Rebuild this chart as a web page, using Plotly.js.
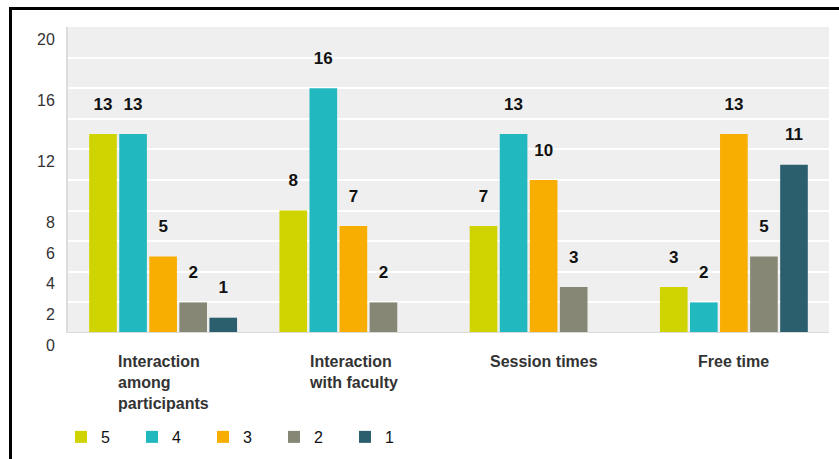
<!DOCTYPE html>
<html>
<head>
<meta charset="utf-8">
<script src="https://cdn.plot.ly/plotly-3.0.1.min.js"></script>
<style>
  html, body { margin: 0; padding: 0; background: #fff; }
  #wrap { position: relative; width: 839px; height: 459px; overflow: hidden; }
  #frame { position: absolute; left: 9px; top: 7px; width: 900px; height: 500px;
           border-top: 3px solid #000; border-left: 3px solid #000; pointer-events: none; z-index: 5; }
  #chart { position: absolute; left: 0; top: 0; width: 839px; height: 459px; }
</style>
</head>
<body>
<div id="wrap">
  <div id="chart"></div>
  <div id="frame"></div>
</div>
<script>
// Data
const categories = ["Interaction among participants", "Interaction with faculty", "Session times", "Free time"];
const categoryLabels = ["Interaction<br>among<br>participants", "Interaction<br>with faculty", "Session times", "Free time"];
const seriesNames = ["5", "4", "3", "2", "1"];
const values5 = [13, 8, 7, 3];
const values4 = [13, 16, 13, 2];
const values3 = [5, 7, 10, 13];
const values2 = [2, 2, 3, 5];
const values1 = [1, 0, 0, 11];
const yTickVals = [0, 2, 4, 6, 8, 10, 12, 14, 16, 18, 20];
const yTickText = ["0", "2", "4", "6", "8", "", "12", "", "16", "", "20"];

const colors = ["#cfd400", "#22b8c0", "#f7ae00", "#878776", "#2b5f6e"];
const allValues = [values5, values4, values3, values2, values1];

const traces = allValues.map((vals, i) => ({
  type: "bar",
  name: seriesNames[i],
  x: categories,
  y: vals,
  marker: { color: colors[i], line: { width: 0 } },
  text: vals.map(v => v > 0 ? "<span style='font-size:17px'><b>" + v + "</b></span><br> " : ""),
  textposition: "outside",
  textfont: { family: "Liberation Sans, Arial, sans-serif", size: 14, color: "#111" },
  constraintext: "none",
  cliponaxis: false,
  hoverinfo: "none"
}));

const annotations = categories.map((c, i) => ({
  x: c, xref: "x", y: 0, yref: "paper",
  yanchor: "top", xanchor: "center", align: "left",
  yshift: -18,
  showarrow: false,
  text: "<b>" + categoryLabels[i] + "</b>",
  font: { family: "Liberation Sans, Arial, sans-serif", size: 16, color: "#333" }
}));

const layout = {
  width: 839, height: 459,
  margin: { l: 68, r: 10, t: 27, b: 126 },
  paper_bgcolor: "#ffffff",
  plot_bgcolor: "#efefef",
  barmode: "group",
  bargap: 0.21,
  bargroupgap: 0.08,
  font: { family: "Liberation Sans, Arial, sans-serif", size: 16, color: "#333" },
  xaxis: {
    type: "category",
    showticklabels: false,
    showgrid: false,
    showline: false,
    zeroline: false,
    ticks: ""
  },
  yaxis: {
    range: [0, 20],
    tickmode: "array",
    tickvals: yTickVals,
    ticktext: yTickText,
    showgrid: true,
    gridcolor: "#ffffff",
    gridwidth: 2,
    zeroline: false,
    showline: true,
    linecolor: "#dcdcdc",
    linewidth: 2,
    ticks: "",
    ticklabelshift: 12,
    ticklabelstandoff: 8,
    tickfont: { family: "Liberation Sans, Arial, sans-serif", size: 16, color: "#333" }
  },
  shapes: [{
    type: "line", xref: "paper", yref: "y", x0: 0, x1: 1, y0: 0, y1: 0,
    line: { color: "#dcdcdc", width: 2 }
  }],
  annotations: annotations,
  showlegend: true,
  legend: {
    orientation: "h",
    xref: "container", yref: "container",
    x: 0.0727, y: 0.048,
    xanchor: "left", yanchor: "middle",
    entrywidth: 26, entrywidthmode: "pixels",
    font: { family: "Liberation Sans, Arial, sans-serif", size: 16, color: "#111" },
    bgcolor: "rgba(0,0,0,0)",
    traceorder: "normal"
  }
};

Plotly.newPlot("chart", traces, layout, { displayModeBar: false, staticPlot: true });
</script>
</body>
</html>
